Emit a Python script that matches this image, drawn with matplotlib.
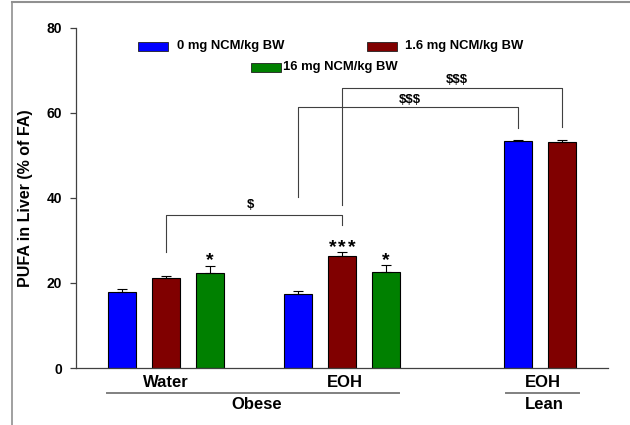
import matplotlib
matplotlib.use("Agg")
import matplotlib.pyplot as plt
from matplotlib.patches import Rectangle
from matplotlib.lines import Line2D
import matplotlib.transforms as mtrans

plt.rcParams['font.family'] = ['Liberation Sans', 'DejaVu Sans']
plt.rcParams['font.weight'] = 'bold'

# Bar positions (one unit per bar slot) and data
positions = [0, 1, 2, 4, 5, 6, 9, 10]
values = [17.8, 21.1, 22.35, 17.3, 26.4, 22.7, 53.3, 53.1]
errors = [0.7, 0.5, 1.75, 0.85, 0.95, 1.6, 0.45, 0.55]
colors = ['#0000FF', '#800000', '#008000', '#0000FF', '#800000', '#008000', '#0000FF', '#800000']

series_names = ['0 mg NCM/kg BW', '1.6 mg NCM/kg BW', '16 mg NCM/kg BW']
series_colors = ['#0000FF', '#800000', '#008000']

# number of significance asterisks per bar position
stars = [(2, 1), (5, 3), (6, 1)]

# significance brackets: (x_left, x_right, y_top, y_left_end, y_right_end, label, label_x, label_y)
brackets = [
    (1, 5, 36.0, 27.3, 33.6, '$', 2.93, 38.4),
    (4, 9, 61.3, 40.2, 56.4, '$$$', 6.55, 63.0),
    (5, 10, 65.95, 38.4, 56.6, '$$$', 7.6, 67.7),
]

fig = plt.figure(figsize=(6.3, 4.25), dpi=100)
W, H = 630, 425
ax = fig.add_axes([76 / W, 57 / H, 532 / W, 340 / H])

ax.bar(positions, values, width=0.62, color=colors, edgecolor='black', linewidth=0.8, zorder=2)
ax.errorbar(positions, values, yerr=[[0] * len(errors), errors], fmt='none',
            ecolor='black', elinewidth=0.8, capsize=3.5, capthick=0.8, zorder=3)

ax.set_xlim(-1.045, 11.045)
ax.set_ylim(0, 80)
ax.set_yticks([0, 20, 40, 60, 80])
ax.set_xticks([])
for s in ['top', 'right']:
    ax.spines[s].set_visible(False)
for s in ['left', 'bottom']:
    ax.spines[s].set_color('#404040')
    ax.spines[s].set_linewidth(0.9)
ax.tick_params(axis='y', direction='out', length=4, width=0.9, color='#404040',
               labelsize=10, pad=6)
for lab in ax.get_yticklabels():
    lab.set_fontweight('bold')
ax.set_ylabel('PUFA in Liver (% of FA)', fontsize=11.5, fontweight='bold')
ax.yaxis.set_label_coords(-0.081, 0.5)

# asterisks above error bars, spaced apart
star_pitch = 0.22
for idx, n in stars:
    i = positions.index(idx)
    for k in range(n):
        dx = (k - (n - 1) / 2) * star_pitch
        ax.text(idx + dx, values[i] + errors[i], '*', ha='center', va='baseline',
                fontsize=14, fontweight='bold')

# brackets
for xl, xr, yt, yle, yre, lab, lx, ly in brackets:
    ax.plot([xl, xl, xr, xr], [yle, yt, yt, yre], color='#404040', lw=0.8, zorder=1)
    ax.text(lx, ly, lab, ha='center', va='center', fontsize=9.5, fontweight='bold')

# group labels beneath the axis
trans = mtrans.blended_transform_factory(ax.transData, ax.transAxes)
ax.text(1.0, -0.043, 'Water', transform=trans, ha='center', va='center', fontsize=12, fontweight='bold')
ax.text(5.07, -0.043, 'EOH', transform=trans, ha='center', va='center', fontsize=12, fontweight='bold')
ax.text(9.56, -0.043, 'EOH', transform=trans, ha='center', va='center', fontsize=12, fontweight='bold')
ax.text(3.07, -0.108, 'Obese', transform=trans, ha='center', va='center', fontsize=12, fontweight='bold')
ax.text(9.6, -0.108, 'Lean', transform=trans, ha='center', va='center', fontsize=12, fontweight='bold')
ax.add_line(Line2D([-0.34, 6.3], [-0.0726, -0.0726], transform=trans, color='#808080',
                   lw=1.4, clip_on=False))
ax.add_line(Line2D([8.72, 10.38], [-0.0726, -0.0726], transform=trans, color='#808080',
                   lw=1.4, clip_on=False))

# legend entries
legend_pos = [(138, 41.5, 177), (367, 41.5, 405), (251, 62.5, 283)]
for (px, py, tx), name, col in zip(legend_pos, series_names, series_colors):
    fig.add_artist(Rectangle((px / W, 1 - (py + 9.5) / H), 30 / W, 9.5 / H,
                             transform=fig.transFigure, facecolor=col,
                             edgecolor='#202020', linewidth=0.6))
    fig.text(tx / W, 1 - (py + 4.75) / H, name, ha='left', va='center',
             fontsize=9.4, fontweight='bold')

# outer frame lines (top and left)
fig.add_artist(Line2D([12 / W, 1], [1 - 2 / H, 1 - 2 / H], transform=fig.transFigure,
                      color='#909090', lw=1.5))
fig.add_artist(Line2D([12 / W, 12 / W], [0, 1 - 2 / H], transform=fig.transFigure,
                      color='#909090', lw=1.2))

fig.savefig('out.png', dpi=100)
